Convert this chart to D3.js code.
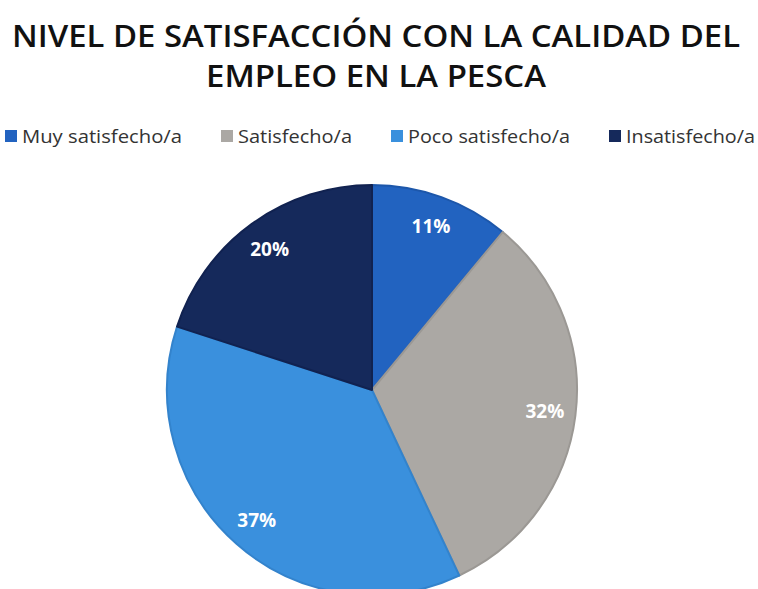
<!DOCTYPE html>
<html>
<head>
<meta charset="utf-8">
<script src="https://cdn.jsdelivr.net/npm/d3@7"></script>
<style>
  body { margin: 0; background: #fff; }
  #vis { width: 758px; height: 589px; overflow: hidden; }
</style>
</head>
<body>
<div id="vis"></div>
<script>
var categories = ['Muy satisfecho/a', 'Satisfecho/a', 'Poco satisfecho/a', 'Insatisfecho/a'];
var values = [11, 32, 37, 20];
var colors = ['#2263c0', '#aba8a4', '#3a90dd', '#15295b'];
var strokes = ['#1d57aa', '#9b9894', '#3383cc', '#112250'];
var titleLines = ['NIVEL DE SATISFACCIÓN CON LA CALIDAD DEL', 'EMPLEO EN LA PESCA'];

var width = 758, height = 589;

var svg = d3.select('#vis')
    .append('svg')
    .attr('width', width)
    .attr('height', height);

// title
var titleSpec = [{y: 47, x1: 12, x2: 740}, {y: 87, x1: 206, x2: 546}];
svg.selectAll('.title')
    .data(titleLines)
    .enter()
    .append('text')
    .attr('class', 'title')
    .attr('x', function(d, i) { return titleSpec[i].x1; })
    .attr('y', function(d, i) { return titleSpec[i].y; })
    .attr('textLength', function(d, i) { return titleSpec[i].x2 - titleSpec[i].x1; })
    .attr('lengthAdjust', 'spacingAndGlyphs')
    .style('font-family', '"Open Sans", sans-serif')
    .style('font-weight', 600)
    .style('font-size', '30px')
    .style('fill', '#111')
    .text(function(d) { return d; });

// legend
var legendX = [5, 221, 391, 609];
var legendTextEnd = [182, 352, 570, 755];
var legend = svg.selectAll('.legend')
    .data(categories)
    .enter()
    .append('g')
    .attr('class', 'legend')
    .attr('transform', function(d, i) { return 'translate(' + legendX[i] + ',136)'; });

legend.append('rect')
    .attr('x', 0)
    .attr('y', -6)
    .attr('width', 12)
    .attr('height', 12)
    .attr('fill', function(d, i) { return colors[i]; });

legend.append('text')
    .attr('x', 17)
    .attr('y', 7)
    .attr('textLength', function(d, i) { return legendTextEnd[i] - legendX[i] - 17; })
    .attr('lengthAdjust', 'spacingAndGlyphs')
    .style('font-family', '"Open Sans", sans-serif')
    .style('font-size', '19px')
    .style('fill', '#333')
    .text(function(d) { return d; });

// pie
var cx = 372, cy = 390, radius = 205;

var pie = d3.pie()
    .sort(null)
    .value(function(d) { return d; });

var arc = d3.arc()
    .innerRadius(0)
    .outerRadius(radius);

var labelArc = d3.arc()
    .innerRadius(radius * 0.85)
    .outerRadius(radius * 0.85);

var g = svg.append('g')
    .attr('transform', 'translate(' + cx + ',' + cy + ')');

var slices = g.selectAll('.slice')
    .data(pie(values))
    .enter()
    .append('g')
    .attr('class', 'slice');

slices.append('path')
    .attr('d', arc)
    .attr('fill', function(d, i) { return colors[i]; })
    .attr('stroke', function(d, i) { return strokes[i]; })
    .attr('stroke-width', 2)
    .attr('stroke-linejoin', 'round');

slices.append('text')
    .attr('transform', function(d) { return 'translate(' + labelArc.centroid(d) + ')'; })
    .attr('text-anchor', 'middle')
    .attr('dy', '0.35em')
    .style('font-family', '"Open Sans", sans-serif')
    .style('font-weight', 700)
    .style('font-size', '19px')
    .style('fill', '#fff')
    .text(function(d) { return d.data + '%'; });
</script>
</body>
</html>
